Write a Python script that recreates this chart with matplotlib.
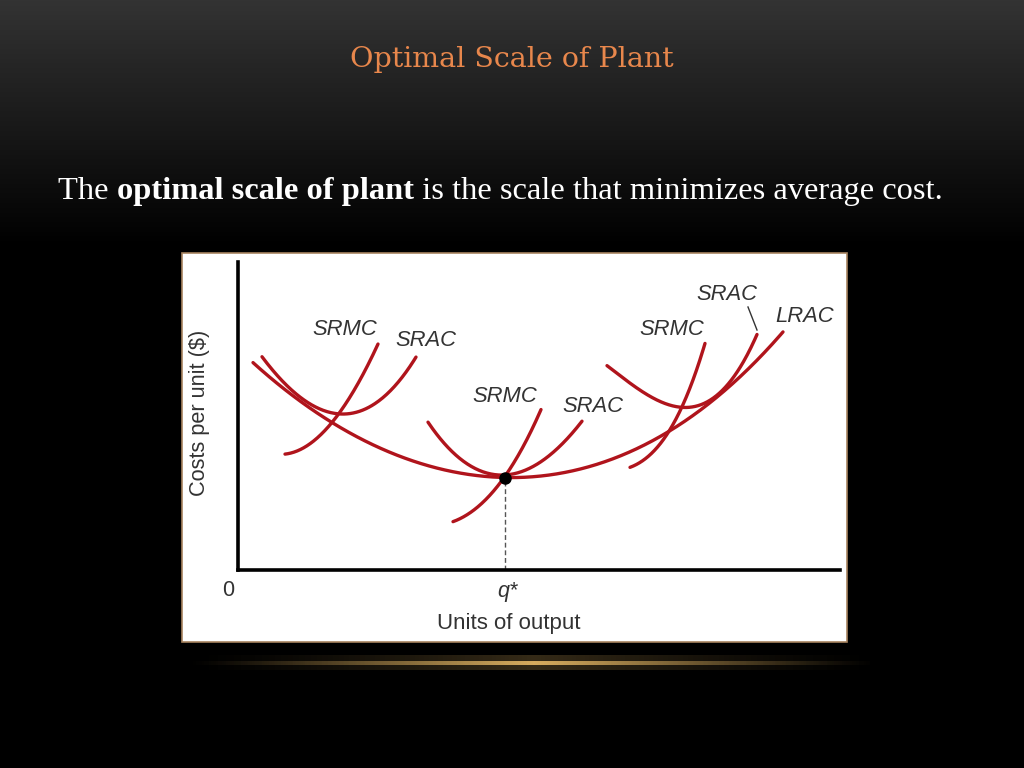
import numpy as np
import matplotlib
matplotlib.use("Agg")
import matplotlib.pyplot as plt
from matplotlib.patches import Rectangle

# ---------------- data (chart units: output 0..602, cost 0..308) ----------------
lrac_x = [15, 52, 92, 175, 267, 329, 395, 429, 495, 545]
lrac_y = [207, 178, 147, 110, 92, 98, 120, 137, 187, 238]

srac1_x = [24, 59, 102, 112, 149, 178]
srac1_y = [214, 173, 158, 158, 173, 214]
srmc1_x = [47, 62, 80, 102, 122, 140]
srmc1_y = [116, 120, 133, 158, 190, 226]

srac2_x = [190, 212, 242, 267, 295, 329, 344]
srac2_y = [147, 122, 100, 92, 105, 132, 148]
srmc2_x = [215, 232, 252, 267, 284, 303]
srmc2_y = [48, 58, 75, 92, 123, 160]

srac3_x = [369, 402, 448, 477, 502, 519]
srac3_y = [205, 178, 165, 173, 200, 237]
srmc3_x = [392, 407, 429, 445, 457, 467]
srmc3_y = [103, 110, 137, 165, 195, 227]

q_star = 267
min_cost = 92

labels = ["SRMC", "SRAC", "SRMC", "SRAC", "SRMC", "SRAC", "LRAC"]
label_x = [107, 188, 267, 355, 434, 489, 567]
label_y = [240, 229, 173, 164, 240, 275, 253]
leader_x = [510, 519]
leader_y = [263, 240]

title = "Optimal Scale of Plant"
sentence = [("The ", "normal"), ("optimal scale of plant", "bold"),
            (" is the scale that minimizes average cost.", "normal")]
x_label = "Units of output"
y_label = "Costs per unit ($)"

W, H = 1024, 768
fig = plt.figure(figsize=(W / 100, H / 100), dpi=100, facecolor="black")

# background gradient
bg = fig.add_axes([0, 0, 1, 1])
bg.axis("off")
yy = np.linspace(0, 1, 400)[:, None]  # 0 top -> 1 bottom
lev = np.clip(0.2 * (1 - yy / 0.32), 0, None)
img = np.repeat(lev, 2, axis=1)
bg.imshow(np.dstack([img, img, img]), extent=[0, 1, 0, 1], aspect="auto", origin="upper")
bg.set_xlim(0, 1)
bg.set_ylim(0, 1)

# glow line
gx = np.linspace(0, 1, 500)
prof = np.clip(1 - np.abs(gx - 0.52) / 0.5, 0, 1) ** 1.3
glow = np.zeros((1, 500, 4))
glow[..., 0] = 0.85
glow[..., 1] = 0.68
glow[..., 2] = 0.38
glow[..., 3] = prof
bg.imshow(glow, extent=[170 / W, 870 / W, 1 - 665 / H, 1 - 661 / H], aspect="auto")
glow2 = glow.copy()
glow2[..., 3] = prof * 0.25
bg.imshow(glow2, extent=[170 / W, 870 / W, 1 - 670 / H, 1 - 656 / H], aspect="auto")

# white panel (inside background axes so the chart axes draw on top)
panel = Rectangle((182 / W, 1 - 642 / H), (847 - 182) / W, (642 - 253) / H,
                  facecolor="white", edgecolor="#a88460", lw=1.2, zorder=5)
bg.add_patch(panel)

# title
fig.text(0.5, 1 - 67 / H, title, ha="center", va="baseline", color="#e8874c",
         fontsize=20.5, family="DejaVu Serif")

# sentence with bold part
renderer = fig.canvas.get_renderer()
def measure(size):
    ws = []
    for s, w in sentence:
        t = fig.text(0, 0, s, fontsize=size, weight=w, family="Liberation Serif")
        bb = t.get_window_extent(renderer)
        ws.append(bb.width)
        t.remove()
    return ws
ws = measure(20)
size = 20 * 884 / sum(ws)
ws = measure(size)
x0 = 58
for (s, w), wd in zip(sentence, ws):
    fig.text(x0 / W, 1 - 199 / H, s, fontsize=size, weight=w, color="white",
             family="Liberation Serif", va="baseline", ha="left")
    x0 += wd

# chart axes
ax = fig.add_axes([238 / W, 1 - 570 / H, (840 - 238) / W, (570 - 262) / H])
ax.set_facecolor("none")
ax.set_xlim(0, 602)
ax.set_ylim(0, 308)
for side in ["top", "right"]:
    ax.spines[side].set_visible(False)
for side in ["left", "bottom"]:
    ax.spines[side].set_linewidth(2.6)
    ax.spines[side].set_color("black")
ax.set_xticks([])
ax.set_yticks([])

red = "#b0141c"
curves = [(lrac_x, lrac_y, 4), (srac1_x, srac1_y, 3), (srmc1_x, srmc1_y, 3),
          (srac2_x, srac2_y, 3), (srmc2_x, srmc2_y, 3), (srac3_x, srac3_y, 3),
          (srmc3_x, srmc3_y, 3)]
for xs, ys, deg in curves:
    coef = np.polyfit(xs, ys, deg)
    sx = np.linspace(min(xs), max(xs), 200)
    ax.plot(sx, np.polyval(coef, sx), color=red, lw=2.4, solid_capstyle="round", zorder=3)

ax.plot([q_star, q_star], [0, min_cost], ls=(0, (3.5, 2)), color="#555555", lw=1.0, zorder=2)
ax.plot([q_star], [min_cost], "o", color="black", ms=8, zorder=5)
ax.plot(leader_x, leader_y, color="#333333", lw=1.0)

lab_font = dict(family="Liberation Sans", fontsize=15.8, style="italic", color="#333333")
for t, x, y in zip(labels, label_x, label_y):
    ax.text(x, y, t, ha="center", va="center", **lab_font)

ax.text(-10, -21, "0", ha="center", va="center", family="Liberation Sans",
        fontsize=15.5, color="#333333", clip_on=False)
ax.text(q_star + 2, -21, "q*", ha="center", va="center", family="Liberation Sans",
        fontsize=15.5, style="italic", color="#333333", clip_on=False)
ax.text(271, -54, x_label, ha="center", va="center", family="Liberation Sans",
        fontsize=16, color="#333333", clip_on=False)
ax.text(-38, 157, y_label, ha="center", va="center", rotation=90,
        family="Liberation Sans", fontsize=15.7, color="#333333", clip_on=False)

fig.savefig("out.png", dpi=100, facecolor="black")
